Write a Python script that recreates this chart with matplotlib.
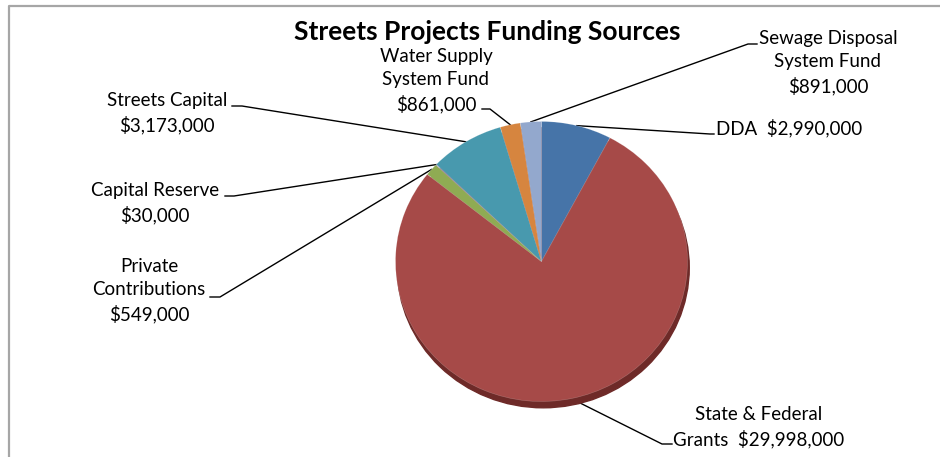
#!/usr/bin/env python
# pie of street project funding, with callout labels in the old office style
import numpy as np
import matplotlib.pyplot as plt
from matplotlib.patches import Ellipse

sources = ['DDA', 'State & Federal Grants', 'Private Contributions',
           'Capital Reserve', 'Streets Capital', 'Water Supply System Fund',
           'Sewage Disposal System Fund']
amounts = [2990000, 29998000, 549000, 30000, 3173000, 861000, 891000]
colors = ['#4674a8', '#a64a48', '#8fab53', '#7d62a0', '#4899ae', '#d6853f', '#93a8cd']

# label text lines, the "{}" gets the dollar amount
label_fmt = ['DDA  {}', 'State & Federal\nGrants  {}', 'Private\nContributions\n{}',
             'Capital Reserve\n{}', 'Streets Capital\n{}', 'Water Supply\nSystem Fund\n{}',
             'Sewage Disposal\nSystem Fund\n{}']

W, H = 940, 457
fig = plt.figure(figsize=(W / 100, H / 100), dpi=100)
ax = fig.add_axes([0, 0, 1, 1])
ax.set_xlim(0, W)
ax.set_ylim(H, 0)
ax.axis('off')

FONT = 'Lato'

# chart frame (left and top edges show)
ax.plot([8.5, 8.5, W], [H, 5.5, 5.5], color='#a6a6a6', lw=1.6, solid_capstyle='butt')

ax.text(487, 32, 'Streets Projects Funding Sources', ha='center', va='center',
        fontsize=19, fontweight='bold', family=FONT)

# pie box in pixels (slightly squashed vertically)
cx, cy, rx, ry = 541.5, 261.5, 146, 140
pax = fig.add_axes([(cx - rx) / W, (H - cy - ry) / H, 2 * rx / W, 2 * ry / H])

# depth rim under the pie
pax.add_patch(Ellipse((0.012, -0.045), 2.0, 2.0, color='#6e2a28', zorder=0,
                      clip_on=False))
pax.pie(amounts, colors=colors, startangle=90, counterclock=False, radius=1,
        wedgeprops=dict(linewidth=0.4, edgecolor='#ffffff40'))
pax.set_aspect('auto')
pax.set_xlim(-1, 1)
pax.set_ylim(-1, 1)
pax.axis('off')

# anchor points on the rim at each slice's middle angle
frac = np.array(amounts) / sum(amounts) * 360
mid = 90 - (np.cumsum(frac) - frac / 2)
ax_pts = cx + rx * np.cos(np.radians(mid))
ay_pts = cy - ry * np.sin(np.radians(mid))

# text centre, elbow point, end of stub, text alignment
layout = [
    ((716, 128), (710, 134), (714, 134), 'left'),
    ((759, 427), (662, 444), (672, 444), 'center'),
    ((149, 291), (220, 297), (210, 297), 'center'),
    ((155, 203), (234, 196), (225, 196), 'center'),
    ((167, 113), (242, 106), (232, 106), 'center'),
    ((436, 81), (490, 109), (482, 109), 'center'),
    ((828, 63), (748, 44), (757, 44), 'center'),
]

for i, (name, amt) in enumerate(zip(sources, amounts)):
    (tx, ty), (ex, ey), (sx, sy), ha = layout[i]
    ax.plot([ax_pts[i], ex, sx], [ay_pts[i], ey, sy], color='black', lw=1.0)
    txt = label_fmt[i].format('${:,.0f}'.format(amt))
    ax.text(tx, ty, txt, ha=ha, va='center', fontsize=13.5, family=FONT,
            linespacing=1.42, multialignment='center')

fig.savefig('out.png', dpi=100)
